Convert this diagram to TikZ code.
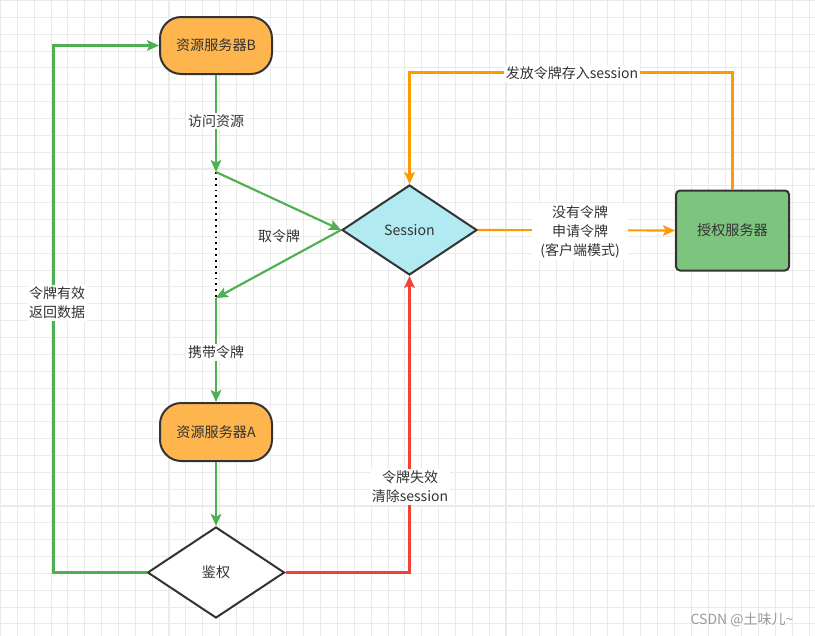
\documentclass[tikz,border=0pt]{standalone}
\usepackage{fontspec}
\setmainfont{Noto Sans CJK SC}
\usetikzlibrary{shapes.geometric,arrows.meta}
\definecolor{gridc}{HTML}{EAEAEA}
\definecolor{lgreen}{RGB}{78,176,80}
\definecolor{lorange}{HTML}{FF9900}
\definecolor{lred}{RGB}{242,66,54}
\definecolor{ofill}{HTML}{FFB54D}
\definecolor{cfill}{HTML}{B1EAF1}
\definecolor{gfill}{HTML}{7DC57F}
\definecolor{bord}{HTML}{333333}
\definecolor{textc}{HTML}{333333}
\definecolor{wmark}{HTML}{9A9A9A}
\tikzset{
  stadium/.style={draw=bord, line width=1.5pt, fill=ofill, rounded corners=16pt,
    minimum width=112*0.75pt, minimum height=57*0.75pt, inner sep=0pt},
  dia/.style={diamond, draw=bord, line width=1.5pt, inner sep=0pt},
  authbox/.style={draw=bord, line width=1.5pt, fill=gfill, rounded corners=3pt,
    minimum width=113*0.75pt, minimum height=80*0.75pt, inner sep=0pt},
  arr/.style={-{Stealth[length=9pt, width=8pt, inset=2pt]}, line width=1.6pt},
  garrow/.style={arr, draw=lgreen},
  oarrow/.style={arr, draw=lorange},
  rarrow/.style={arr, draw=lred},
  lbl/.style={fill=white, inner sep=1.5pt, align=center, font=\fontsize{10.5}{14.4}\selectfont},
}
\begin{document}
\begin{tikzpicture}[x=0.75pt, y=-0.75pt, font=\fontsize{10.6}{14}\selectfont, text=textc]
\useasboundingbox (0,0) rectangle (815,636);
\fill[white] (0,0) rectangle (815,636);
\foreach \i in {0,...,48} \draw[gridc, line width=0.8pt] ({0.5+16.85*\i},0) -- ({0.5+16.85*\i},636);
\foreach \i in {0,...,37} \draw[gridc, line width=0.8pt] (0,{0.5+16.85*\i}) -- (815,{0.5+16.85*\i});

% nodes
\node[stadium] (B) at (216,45.5) {资源服务器B};
\node[stadium, minimum height=58*0.75pt] (A) at (216,432) {资源服务器A};
\node[dia, fill=cfill, minimum width=135*0.75pt, minimum height=90*0.75pt] (S) at (409.5,230) {Session};
\node[dia, fill=white, minimum width=137*0.75pt, minimum height=91*0.75pt] (J) at (216,572.5) {鉴权};
\node[authbox] (Auth) at (732.5,230.5) {授权服务器};

\coordinate (p1) at (216,172);
\coordinate (p2) at (216,298);

% green flow
\draw[garrow] (B.south) -- (p1);
\draw[black, line width=1.2pt, dash pattern=on 1.4pt off 3pt] (p1) -- (p2);
\draw[garrow] (p1) -- (S.west);
\draw[garrow] (S.west) -- (p2);
\draw[garrow] (p2) -- (A.north);
\draw[garrow] (A.south) -- (J.north);
\draw[garrow] (J.west) -- ++(-93,0) |- (B.west);

% red
\draw[rarrow] (J.east) -| (S.south);

% orange
\draw[oarrow] (S.east) -- (Auth.west);
\draw[oarrow] (Auth.north) -- ++(0,-117) -| (S.north);

% labels
\node[lbl] (l1) at (216,121) {访问资源};
\node[font=\fontsize{10.5}{14}\selectfont] (l2) at (279,236) {取令牌};
\node[lbl] (l3) at (216,352) {携带令牌};
\node[lbl] (l4) at (57,303) {令牌有效\\返回数据};
\node[lbl] (l5) at (410,487) {令牌失效\\清除session};
\node[lbl, inner xsep=6pt] (l6) at (580,232) {没有令牌\\申请令牌\\(客户端模式)};
\node[lbl] (l7) at (572,73) {发放令牌存入session};
\node[text=wmark, font=\fontsize{10.5}{14}\selectfont] (wm) at (742,620) {CSDN @土味儿\textasciitilde};
\end{tikzpicture}
\end{document}
